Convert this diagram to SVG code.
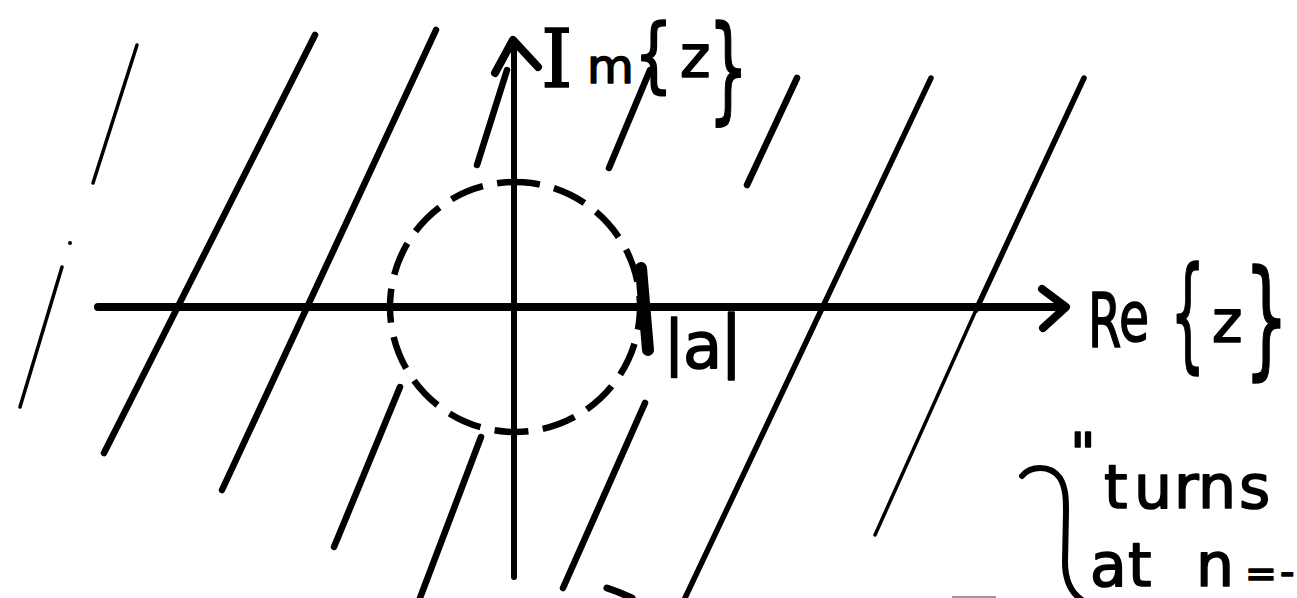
<svg xmlns="http://www.w3.org/2000/svg" width="1297" height="598" viewBox="0 0 1297 598">
<style>
.h{stroke:#000;stroke-width:6.5;stroke-linecap:round;fill:none}
.hf{stroke:#000;stroke-width:3.5;stroke-linecap:round;fill:none}
.ax{stroke:#000;stroke-width:8;fill:none;stroke-linecap:round;stroke-linejoin:round}
.t{font-family:"DejaVu Sans","Liberation Sans",sans-serif;fill:#000;stroke:#000;stroke-width:1.6;stroke-linejoin:round}
.ts{font-family:"DejaVu Serif","Liberation Serif",serif;fill:#000;stroke:#000;stroke-width:1.6}
</style>
<rect width="1297" height="598" fill="#fff"/>
<g id="hatching">
  <line class="hf" x1="137" y1="45" x2="93" y2="183"/>
  <circle cx="70" cy="243" r="2" fill="#000"/>
  <line class="hf" x1="62" y1="267" x2="20" y2="407"/>
  <line class="h" x1="315" y1="35" x2="104" y2="453"/>
  <line class="h" x1="436" y1="30" x2="222" y2="490"/>
  <line class="h" x1="507" y1="70" x2="477" y2="165"/>
  <line class="h" x1="400" y1="387" x2="334" y2="547"/>
  <line class="h" x1="481" y1="437" x2="420" y2="598"/>
  <line class="h" x1="650" y1="70" x2="609" y2="168"/>
  <line class="h" x1="645" y1="403" x2="563" y2="588"/>
  <line class="h" x1="797" y1="78" x2="747" y2="185"/>
  <line class="h" style="stroke-width:5.5" x1="931" y1="78" x2="685" y2="598"/>
  <line class="h" style="stroke-width:5.5" x1="1084" y1="78" x2="976" y2="310"/>
  <line class="hf" x1="976" y1="310" x2="875" y2="535"/>
</g>
<g id="axes">
  <line class="ax" x1="98" y1="307" x2="1064" y2="307"/>
  <polyline class="ax" points="1042,289 1066,307 1043,328"/>
  <line class="ax" style="stroke-width:6" x1="514" y1="42" x2="514" y2="577"/>
  <polyline class="ax" points="495,73 513,40 538,67"/>
</g>
<g id="region-circle">
  <circle cx="515" cy="307" r="125" fill="none" stroke="#000" stroke-width="6.5" stroke-dasharray="34 14.5" stroke-dashoffset="17" transform="rotate(-86.3 515 307)"/>
  <line class="ax" style="stroke-width:12" x1="641" y1="268" x2="648" y2="350"/>
</g>
<g id="label-im">
  <text class="ts" x="541" y="87" font-size="80">I</text>
  <text class="t" x="587" y="83" font-size="48">m</text>
  <text class="t" font-size="82" transform="translate(634 82) scale(0.75 1)">{</text>
  <text class="t" x="680" y="77" font-size="58">z</text>
  <text class="t" font-size="116" transform="translate(708 108) scale(0.55 1)">}</text>
</g>
<g id="label-re">
  <text class="t" font-size="74" transform="translate(1088 347) scale(0.65 1)">R</text>
  <text class="t" font-size="70" transform="translate(1119 341) scale(0.7 1)">e</text>
  <text class="t" font-size="124" transform="translate(1170 356) scale(0.45 1)">{</text>
  <text class="t" x="1212" y="342" font-size="58">z</text>
  <text class="t" font-size="128" transform="translate(1244 362) scale(0.55 1)">}</text>
</g>
<g id="label-a">
  <text class="t" x="664" y="363" font-size="60">|</text>
  <text class="t" x="683" y="368" font-size="64">a</text>
  <text class="t" x="720" y="364" font-size="67">|</text>
</g>
<g id="note">
  <path d="M1022,476 C1030,466 1050,464 1060,478 C1066,488 1066,500 1066,512 L1065,562 C1065,580 1070,592 1082,600" fill="none" stroke="#000" stroke-width="6" stroke-linecap="round"/>
  <text class="t" x="1070" y="472" font-size="56">"</text>
  <text class="t" y="508" font-size="60" x="1104 1134 1174 1198 1239">turns</text>
  <text class="t" y="586" font-size="60" x="1090 1128 1165 1196">at n<tspan x="1245" font-size="38">=</tspan><tspan x="1280" font-size="40">-</tspan></text>
  <polyline points="607,588 618,592 632,598" fill="none" stroke="#000" stroke-width="7" stroke-linecap="round" stroke-linejoin="round"/>
  <rect x="952" y="596" width="44" height="2" fill="#999"/>
</g>
</svg>
